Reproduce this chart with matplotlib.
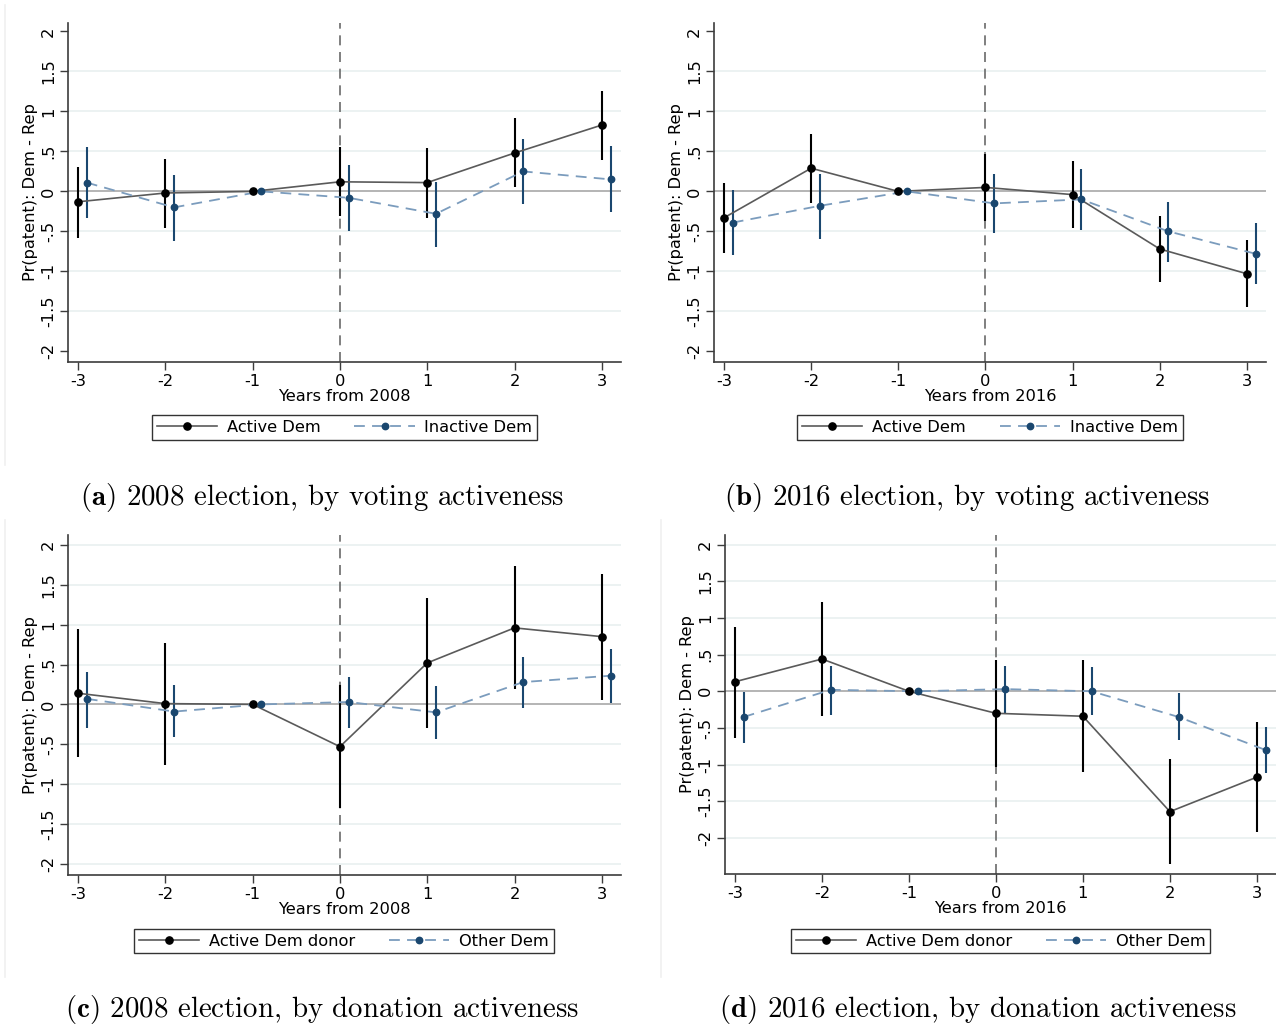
import matplotlib
matplotlib.use("Agg")
import matplotlib.pyplot as plt
from matplotlib.lines import Line2D
import numpy as np

plt.rcParams['font.family'] = ['DejaVu Sans']
plt.rcParams['mathtext.fontset'] = 'cm'

W, H = 1276, 1026

years = [-3, -2, -1, 0, 1, 2, 3]

# (a) 2008 election, by voting activeness
a_active = [-0.13, -0.02, 0.0, 0.12, 0.11, 0.48, 0.83]
a_active_lo = [-0.58, -0.46, 0.0, -0.31, -0.33, 0.05, 0.39]
a_active_hi = [0.31, 0.41, 0.0, 0.56, 0.54, 0.92, 1.26]
a_other = [0.11, -0.20, 0.0, -0.08, -0.28, 0.25, 0.15]
a_other_lo = [-0.33, -0.62, 0.0, -0.49, -0.69, -0.16, -0.26]
a_other_hi = [0.56, 0.21, 0.0, 0.33, 0.12, 0.65, 0.57]

# (b) 2016 election, by voting activeness
b_active = [-0.33, 0.29, 0.0, 0.05, -0.04, -0.72, -1.03]
b_active_lo = [-0.77, -0.15, 0.0, -0.37, -0.46, -1.13, -1.44]
b_active_hi = [0.10, 0.72, 0.0, 0.47, 0.38, -0.31, -0.61]
b_other = [-0.39, -0.18, 0.0, -0.15, -0.10, -0.50, -0.78]
b_other_lo = [-0.80, -0.59, 0.0, -0.52, -0.48, -0.88, -1.16]
b_other_hi = [0.02, 0.22, 0.0, 0.22, 0.28, -0.13, -0.39]

# (c) 2008 election, by donation activeness
c_active = [0.14, 0.01, 0.0, -0.53, 0.52, 0.96, 0.85]
c_active_lo = [-0.66, -0.76, 0.0, -1.30, -0.29, 0.19, 0.06]
c_active_hi = [0.94, 0.77, 0.0, 0.24, 1.33, 1.73, 1.64]
c_other = [0.07, -0.09, 0.0, 0.03, -0.10, 0.28, 0.36]
c_other_lo = [-0.29, -0.41, 0.0, -0.30, -0.43, -0.05, 0.02]
c_other_hi = [0.41, 0.24, 0.0, 0.35, 0.23, 0.60, 0.69]

# (d) 2016 election, by donation activeness
d_active = [0.13, 0.44, 0.0, -0.30, -0.34, -1.64, -1.17]
d_active_lo = [-0.64, -0.33, 0.0, -1.03, -1.10, -2.36, -1.92]
d_active_hi = [0.88, 1.22, 0.0, 0.42, 0.42, -0.92, -0.42]
d_other = [-0.35, 0.02, 0.0, 0.03, 0.00, -0.35, -0.80]
d_other_lo = [-0.70, -0.32, 0.0, -0.29, -0.32, -0.66, -1.12]
d_other_hi = [-0.01, 0.35, 0.0, 0.35, 0.33, -0.03, -0.48]

ytick_vals = [-2, -1.5, -1, -0.5, 0, 0.5, 1, 1.5, 2]
ytick_labels = ['-2', '-1.5', '-1', '-.5', '0', '.5', '1', '1.5', '2']
xtick_labels = ['-3', '-2', '-1', '0', '1', '2', '3']

BLACK = '#000000'
NAVY = '#1a476f'
ACTIVE_LINE = '#5a5a5a'
OTHER_LINE = '#7b9cbd'
GRID = '#eaf1f1'
AXIS = '#3c3c3c'
FS = 11.7


def add_axes_px(left, top, right, bottom):
    return fig.add_axes([left / W, 1 - bottom / H, (right - left) / W, (bottom - top) / H])


def draw_panel(ax, act, act_lo, act_hi, oth, oth_lo, oth_hi, year, ylim, edge_grid):
    x = np.array(years, dtype=float)
    x2 = x + 0.1
    ax.set_xlim(-3.115, 3.22)
    ax.set_ylim(*ylim)
    for v in ytick_vals:
        if v == 0:
            continue
        if not edge_grid and abs(v) == 2:
            continue
        ax.axhline(v, color=GRID, lw=1.3, zorder=0)
    ax.axhline(0, color='#b4b4b4', lw=1.4, zorder=1)
    ax.axvline(0, color='#6a6a6a', lw=1.2, ls=(0, (6, 4)), zorder=1)

    ax.vlines(x, act_lo, act_hi, color=BLACK, lw=1.5, zorder=3)
    ax.vlines(x2, oth_lo, oth_hi, color=NAVY, lw=1.5, zorder=3)
    ax.plot(x, act, color=ACTIVE_LINE, lw=1.2, zorder=4)
    ax.plot(x2, oth, color=OTHER_LINE, lw=1.3, ls=(0, (6, 4)), zorder=4)
    ax.plot(x, act, ls='none', marker='o', ms=5.2, color=BLACK, zorder=5)
    ax.plot(x2, oth, ls='none', marker='o', ms=4.6, color=NAVY, zorder=5)

    ax.set_xticks(years)
    ax.set_xticklabels(xtick_labels)
    ax.set_yticks(ytick_vals)
    ax.set_yticklabels(ytick_labels, rotation=90, va='center')
    ax.tick_params(axis='both', length=5.5, width=1.0, color=AXIS, labelsize=FS, pad=3)
    for s in ['top', 'right']:
        ax.spines[s].set_visible(False)
    for s in ['left', 'bottom']:
        ax.spines[s].set_color(AXIS)
        ax.spines[s].set_linewidth(1.2)
    ax.set_xlabel('Years from %d' % year, fontsize=FS, labelpad=0)
    ax.set_ylabel('Pr(patent): Dem - Rep', fontsize=FS, labelpad=2)


def add_legend(cx, cy, lab1, lab2, colsp):
    h1 = Line2D([], [], color=ACTIVE_LINE, lw=1.2, marker='o', ms=5.2,
                mfc=BLACK, mec=BLACK)
    h2 = Line2D([], [], color=OTHER_LINE, lw=1.3, ls=(0, (6, 4)), marker='o',
                ms=4.6, mfc=NAVY, mec=NAVY)
    leg = fig.legend([h1, h2], [lab1, lab2], loc='center',
                     bbox_to_anchor=(cx / W, 1 - cy / H), ncol=2,
                     fontsize=FS, frameon=True, fancybox=False,
                     edgecolor='#333333', framealpha=1, handlelength=3.7,
                     handletextpad=0.6, columnspacing=colsp, borderpad=0.3,
                     borderaxespad=0, numpoints=1)
    leg.get_frame().set_linewidth(1.0)


def add_caption(cx, cy, letter, text):
    fig.text(cx / W, 1 - cy / H,
             r'$\mathbf{(%s)}$' % letter + ' ' + text,
             family='cmr10', fontsize=20.8, ha='center', va='center')


fig = plt.figure(figsize=(W / 100, H / 100), dpi=100)

# faint outlines of the sub-figure regions
for xl, y0, y1 in [(5, 5, 465), (5, 520, 977), (661, 520, 977)]:
    fig.add_artist(Line2D([xl / W, xl / W], [1 - y0 / H, 1 - y1 / H],
                          transform=fig.transFigure, color='#f0f0f0', lw=1.2))

ax_a = add_axes_px(68, 22.7, 621, 361.7)
draw_panel(ax_a, a_active, a_active_lo, a_active_hi, a_other, a_other_lo,
           a_other_hi, 2008, (-2.13, 2.11), False)
ax_b = add_axes_px(714, 22.7, 1266, 361.7)
draw_panel(ax_b, b_active, b_active_lo, b_active_hi, b_other, b_other_lo,
           b_other_hi, 2016, (-2.13, 2.11), False)
ax_c = add_axes_px(68, 535, 621, 875)
draw_panel(ax_c, c_active, c_active_lo, c_active_hi, c_other, c_other_lo,
           c_other_hi, 2008, (-2.14, 2.125), True)
ax_d = add_axes_px(725, 535, 1276, 874)
draw_panel(ax_d, d_active, d_active_lo, d_active_hi, d_other, d_other_lo,
           d_other_hi, 2016, (-2.49, 2.13), True)

add_legend(344.5, 427.5, 'Active Dem', 'Inactive Dem', 2.1)
add_legend(990, 427.5, 'Active Dem', 'Inactive Dem', 2.1)
add_legend(344, 941, 'Active Dem donor', 'Other Dem', 2.1)
add_legend(1000.5, 941, 'Active Dem donor', 'Other Dem', 2.1)

add_caption(322, 497, 'a', '2008 election, by voting activeness')
add_caption(967, 497, 'b', '2016 election, by voting activeness')
add_caption(322, 1010, 'c', '2008 election, by donation activeness')
add_caption(978, 1010, 'd', '2016 election, by donation activeness')

fig.savefig('out.png', dpi=100)
